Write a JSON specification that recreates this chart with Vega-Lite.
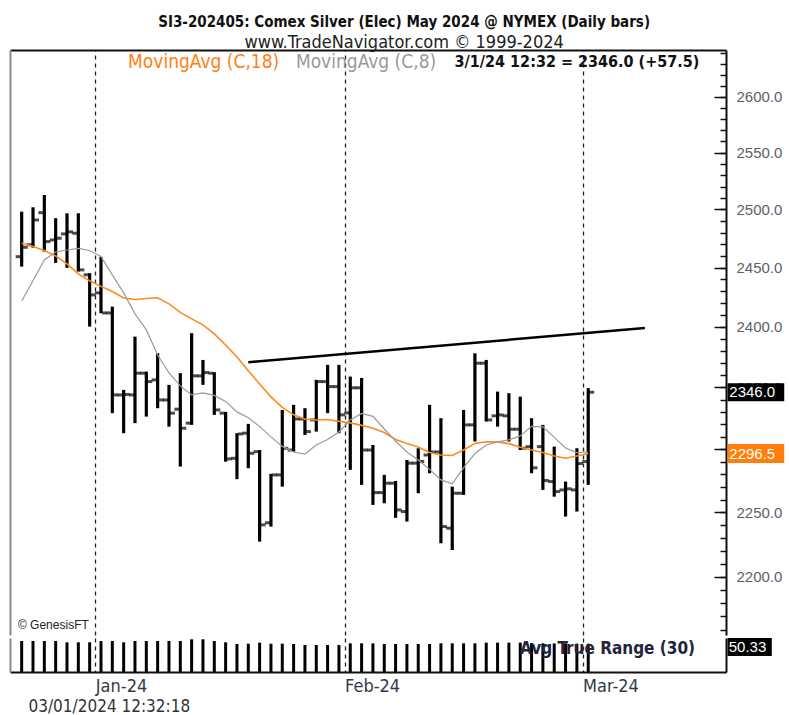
{
  "$schema": "https://vega.github.io/schema/vega-lite/v6.json",
  "background": "white",
  "padding": {"left": 10, "top": 15, "right": 0, "bottom": 0},
  "config": {"view": {"stroke": null}, "font": "Liberation Sans Narrow, DejaVu Sans Condensed, sans-serif"},
  "title": {
    "text": "SI3-202405:  Comex Silver (Elec) May 2024 @ NYMEX  (Daily bars)",
    "subtitle": "www.TradeNavigator.com © 1999-2024",
    "anchor": "middle",
    "font": "Liberation Sans Narrow, DejaVu Sans Condensed, sans-serif",
    "fontSize": 15, "fontWeight": "bold", "color": "#111",
    "subtitleFont": "Liberation Sans Narrow, DejaVu Sans Condensed, sans-serif",
    "subtitleFontSize": 18, "subtitleColor": "#222", "subtitlePadding": 4,
    "offset": -2, "dx": 7
  },
  "datasets": {
    "bars": [
      {"i": 0, "o": 2459.3, "h": 2498.1, "l": 2450.8, "c": 2467.3, "m18": 2470.8, "m8": 2421.7, "atr": 55.2},
      {"i": 1, "o": 2469.5, "h": 2501.9, "l": 2467.0, "c": 2490.9, "m18": 2467.9, "m8": 2438.7, "atr": 55.2},
      {"i": 2, "o": 2497.2, "h": 2512.6, "l": 2463.6, "c": 2472.2, "m18": 2464.6, "m8": 2456.5, "atr": 55.2},
      {"i": 3, "o": 2473.6, "h": 2492.4, "l": 2454.0, "c": 2475.1, "m18": 2459.9, "m8": 2463.3, "atr": 55.2},
      {"i": 4, "o": 2478.8, "h": 2496.7, "l": 2449.7, "c": 2480.6, "m18": 2453.1, "m8": 2465.0, "atr": 52.8},
      {"i": 5, "o": 2479.4, "h": 2496.7, "l": 2446.6, "c": 2448.0, "m18": 2444.6, "m8": 2466.3, "atr": 52.8},
      {"i": 6, "o": 2443.8, "h": 2445.2, "l": 2400.2, "c": 2426.8, "m18": 2438.7, "m8": 2464.6, "atr": 52.8},
      {"i": 7, "o": 2428.5, "h": 2459.1, "l": 2411.4, "c": 2411.6, "m18": 2434.0, "m8": 2459.5, "atr": 55.2},
      {"i": 8, "o": 2411.6, "h": 2416.9, "l": 2329.0, "c": 2343.8, "m18": 2429.7, "m8": 2443.8, "atr": 55.2},
      {"i": 9, "o": 2343.8, "h": 2347.9, "l": 2312.8, "c": 2344.2, "m18": 2424.2, "m8": 2428.5, "atr": 52.8},
      {"i": 10, "o": 2343.8, "h": 2391.8, "l": 2320.9, "c": 2361.6, "m18": 2422.9, "m8": 2410.8, "atr": 55.2},
      {"i": 11, "o": 2361.6, "h": 2362.9, "l": 2326.2, "c": 2354.7, "m18": 2423.8, "m8": 2397.4, "atr": 55.2},
      {"i": 12, "o": 2356.1, "h": 2378.0, "l": 2333.0, "c": 2339.7, "m18": 2424.4, "m8": 2376.6, "atr": 55.2},
      {"i": 13, "o": 2339.7, "h": 2352.0, "l": 2318.1, "c": 2329.0, "m18": 2419.2, "m8": 2361.8, "atr": 55.2},
      {"i": 14, "o": 2332.2, "h": 2361.6, "l": 2286.1, "c": 2316.8, "m18": 2412.1, "m8": 2351.2, "atr": 55.2},
      {"i": 15, "o": 2320.9, "h": 2394.7, "l": 2319.5, "c": 2359.4, "m18": 2406.6, "m8": 2343.8, "atr": 58.2},
      {"i": 16, "o": 2359.4, "h": 2372.5, "l": 2352.0, "c": 2362.1, "m18": 2401.6, "m8": 2345.4, "atr": 58.2},
      {"i": 17, "o": 2361.6, "h": 2362.4, "l": 2327.6, "c": 2331.6, "m18": 2394.1, "m8": 2343.4, "atr": 55.2},
      {"i": 18, "o": 2329.0, "h": 2330.0, "l": 2290.0, "c": 2292.2, "m18": 2384.9, "m8": 2338.5, "atr": 52.8},
      {"i": 19, "o": 2292.7, "h": 2312.8, "l": 2276.1, "c": 2312.2, "m18": 2375.0, "m8": 2330.0, "atr": 49.8},
      {"i": 20, "o": 2312.8, "h": 2320.3, "l": 2284.8, "c": 2296.7, "m18": 2363.5, "m8": 2325.2, "atr": 50.4},
      {"i": 21, "o": 2298.0, "h": 2299.3, "l": 2227.2, "c": 2240.2, "m18": 2352.8, "m8": 2318.3, "atr": 52.2},
      {"i": 22, "o": 2241.8, "h": 2280.3, "l": 2238.9, "c": 2279.5, "m18": 2342.2, "m8": 2309.8, "atr": 50.4},
      {"i": 23, "o": 2279.5, "h": 2331.6, "l": 2270.2, "c": 2300.7, "m18": 2333.6, "m8": 2302.2, "atr": 50.4},
      {"i": 24, "o": 2299.3, "h": 2335.7, "l": 2298.0, "c": 2324.3, "m18": 2327.6, "m8": 2297.7, "atr": 49.8},
      {"i": 25, "o": 2324.3, "h": 2333.0, "l": 2311.4, "c": 2314.1, "m18": 2324.3, "m8": 2296.1, "atr": 48.0},
      {"i": 26, "o": 2323.5, "h": 2356.1, "l": 2314.1, "c": 2354.7, "m18": 2323.5, "m8": 2303.3, "atr": 48.0},
      {"i": 27, "o": 2354.7, "h": 2368.4, "l": 2329.0, "c": 2350.6, "m18": 2323.9, "m8": 2307.8, "atr": 48.0},
      {"i": 28, "o": 2350.6, "h": 2368.4, "l": 2312.8, "c": 2327.6, "m18": 2322.3, "m8": 2313.8, "atr": 48.0},
      {"i": 29, "o": 2329.2, "h": 2358.8, "l": 2283.5, "c": 2349.6, "m18": 2321.1, "m8": 2323.5, "atr": 51.0},
      {"i": 30, "o": 2349.6, "h": 2357.7, "l": 2271.6, "c": 2299.3, "m18": 2319.1, "m8": 2328.8, "atr": 51.0},
      {"i": 31, "o": 2299.3, "h": 2303.3, "l": 2255.8, "c": 2265.5, "m18": 2316.7, "m8": 2326.4, "atr": 51.0},
      {"i": 32, "o": 2265.5, "h": 2279.5, "l": 2257.1, "c": 2272.9, "m18": 2313.4, "m8": 2316.2, "atr": 49.8},
      {"i": 33, "o": 2272.9, "h": 2274.7, "l": 2245.7, "c": 2251.9, "m18": 2307.8, "m8": 2306.5, "atr": 49.8},
      {"i": 34, "o": 2250.6, "h": 2291.4, "l": 2242.8, "c": 2288.8, "m18": 2304.6, "m8": 2297.7, "atr": 49.8},
      {"i": 35, "o": 2288.8, "h": 2300.7, "l": 2265.0, "c": 2290.1, "m18": 2301.7, "m8": 2291.4, "atr": 49.8},
      {"i": 36, "o": 2295.3, "h": 2335.7, "l": 2280.8, "c": 2297.7, "m18": 2297.3, "m8": 2283.9, "atr": 49.8},
      {"i": 37, "o": 2297.7, "h": 2324.9, "l": 2225.9, "c": 2238.9, "m18": 2295.3, "m8": 2275.5, "atr": 51.0},
      {"i": 38, "o": 2237.6, "h": 2270.2, "l": 2220.7, "c": 2265.0, "m18": 2294.9, "m8": 2272.4, "atr": 51.0},
      {"i": 39, "o": 2265.0, "h": 2331.6, "l": 2263.7, "c": 2319.5, "m18": 2299.3, "m8": 2285.1, "atr": 51.0},
      {"i": 40, "o": 2319.5, "h": 2378.0, "l": 2306.1, "c": 2369.8, "m18": 2304.6, "m8": 2296.5, "atr": 51.0},
      {"i": 41, "o": 2369.8, "h": 2372.5, "l": 2322.2, "c": 2323.5, "m18": 2305.8, "m8": 2303.3, "atr": 52.2},
      {"i": 42, "o": 2326.8, "h": 2346.5, "l": 2318.1, "c": 2327.5, "m18": 2305.8, "m8": 2305.8, "atr": 52.2},
      {"i": 43, "o": 2326.8, "h": 2345.2, "l": 2306.1, "c": 2316.0, "m18": 2304.4, "m8": 2307.4, "atr": 52.2},
      {"i": 44, "o": 2316.0, "h": 2342.4, "l": 2299.3, "c": 2300.7, "m18": 2301.5, "m8": 2310.6, "atr": 52.2},
      {"i": 45, "o": 2302.0, "h": 2324.9, "l": 2280.8, "c": 2285.1, "m18": 2299.3, "m8": 2318.3, "atr": 51.5},
      {"i": 46, "o": 2302.0, "h": 2319.5, "l": 2267.6, "c": 2275.0, "m18": 2297.3, "m8": 2317.9, "atr": 51.0},
      {"i": 47, "o": 2274.2, "h": 2302.0, "l": 2262.3, "c": 2266.3, "m18": 2294.5, "m8": 2309.4, "atr": 50.8},
      {"i": 48, "o": 2267.6, "h": 2274.2, "l": 2246.7, "c": 2268.5, "m18": 2292.7, "m8": 2300.9, "atr": 50.6},
      {"i": 49, "o": 2267.6, "h": 2300.7, "l": 2250.6, "c": 2288.5, "m18": 2294.5, "m8": 2297.2, "atr": 50.5},
      {"i": 50, "o": 2290.1, "h": 2349.3, "l": 2271.6, "c": 2346.0, "m18": 2296.5, "m8": 2297.7, "atr": 50.33}
    ],
    "trend": [
      {"i": 20, "p": 2370.6},
      {"i": 55, "p": 2399.0}
    ]
  },
  "spacing": 2,
  "vconcat": [
    {
      "width": 716,
      "height": 585,
      "data": {"name": "bars"},
      "layer": [
        {
          "mark": {"type": "rule", "strokeWidth": 3.2, "color": "#000"},
          "encoding": {
            "x": {"field": "i", "type": "quantitative",
              "scale": {"domain": [-1.03, 62.16], "nice": false, "zero": false},
              "axis": {"orient": "top", "values": [6.5, 28.5, 49.5], "labels": false, "ticks": false,
                "domainColor": "#111", "domainWidth": 2, "grid": true, "gridDash": [4, 4],
                "gridColor": "#222", "gridWidth": 1.3, "title": null}},
            "y": {"field": "l", "type": "quantitative",
              "scale": {"type": "log", "domain": [2156.0, 2642.6], "nice": false, "zero": false},
              "axis": {"orient": "right", "values": [2200, 2250, 2300, 2350, 2400, 2450, 2500, 2550, 2600],
                "format": ".1f", "ticks": false, "labelPadding": 10, "labelFontSize": 15,
                "labelFont": "Liberation Sans, Arial, sans-serif", "labelColor": "#5b5f6b",
                "domainColor": "#111", "domainWidth": 2, "grid": false, "title": null}},
            "y2": {"field": "h"}
          }
        },
        {
          "mark": {"type": "tick", "orient": "horizontal", "size": 5, "thickness": 3, "xOffset": -3.5, "color": "#000"},
          "encoding": {
            "x": {"field": "i", "type": "quantitative", "axis": null},
            "y": {"field": "o", "type": "quantitative",
              "axis": {"orient": "right", "values": [2200, 2250, 2300, 2350, 2400, 2450, 2500, 2550, 2600],
                "labels": false, "domain": false, "tickSize": -12, "tickColor": "#111", "tickWidth": 1.5,
                "grid": false, "title": null}}
          }
        },
        {
          "mark": {"type": "tick", "orient": "horizontal", "size": 5, "thickness": 3, "xOffset": 3.5, "color": "#000"},
          "encoding": {
            "x": {"field": "i", "type": "quantitative", "axis": null},
            "y": {"field": "c", "type": "quantitative",
              "axis": {"orient": "right",
                "values": [2160,2170,2180,2190,2200,2210,2220,2230,2240,2250,2260,2270,2280,2290,2300,2310,2320,2330,2340,2350,2360,2370,2380,2390,2400,2410,2420,2430,2440,2450,2460,2470,2480,2490,2500,2510,2520,2530,2540,2550,2560,2570,2580,2590,2600,2610,2620,2630,2640],
                "labels": false, "domain": false, "tickSize": -6, "tickColor": "#111", "tickWidth": 1.5,
                "grid": false, "title": null}}
          }
        },
        {
          "mark": {"type": "line", "color": "#ff8a1c", "strokeWidth": 1.6},
          "encoding": {
            "x": {"field": "i", "type": "quantitative", "axis": null},
            "y": {"field": "m18", "type": "quantitative",
              "axis": {"orient": "left", "labels": false, "ticks": false, "domainColor": "#8a8a8a",
                "domainWidth": 2, "grid": false, "title": null}}
          }
        },
        {
          "mark": {"type": "line", "color": "#9b9b9b", "strokeWidth": 1.2},
          "encoding": {
            "x": {"field": "i", "type": "quantitative", "axis": null},
            "y": {"field": "m8", "type": "quantitative", "axis": null}
          }
        },
        {
          "data": {"name": "trend"},
          "mark": {"type": "line", "color": "#000", "strokeWidth": 2.5},
          "encoding": {
            "x": {"field": "i", "type": "quantitative", "axis": null},
            "y": {"field": "p", "type": "quantitative", "axis": null}
          }
        },
        {
          "data": {"values": [{"t": "MovingAvg (C,18)"}]},
          "mark": {"type": "text", "align": "left", "baseline": "middle", "fontSize": 19, "color": "#ff7f14"},
          "encoding": {
            "x": {"datum": 9.39, "type": "quantitative", "axis": null},
            "y": {"datum": 2631.6, "type": "quantitative", "axis": null},
            "text": {"field": "t"}
          }
        },
        {
          "data": {"values": [{"t": "MovingAvg (C,8)"}]},
          "mark": {"type": "text", "align": "left", "baseline": "middle", "fontSize": 19, "color": "#999999"},
          "encoding": {
            "x": {"datum": 24.2, "type": "quantitative", "axis": null},
            "y": {"datum": 2631.6, "type": "quantitative", "axis": null},
            "text": {"field": "t"}
          }
        },
        {
          "data": {"values": [{"t": "3/1/24 12:32 = 2346.0 (+57.5)"}]},
          "mark": {"type": "text", "align": "left", "baseline": "middle", "fontSize": 16, "fontWeight": "bold", "color": "#111"},
          "encoding": {
            "x": {"datum": 38.2, "type": "quantitative", "axis": null},
            "y": {"datum": 2631.6, "type": "quantitative", "axis": null},
            "text": {"field": "t"}
          }
        },
        {
          "data": {"values": [{"t": "© GenesisFT"}]},
          "mark": {"type": "text", "align": "left", "baseline": "middle", "fontSize": 12, "font": "Liberation Sans, Arial, sans-serif", "color": "#222"},
          "encoding": {
            "x": {"datum": -0.33, "type": "quantitative", "axis": null},
            "y": {"datum": 2163.6, "type": "quantitative", "axis": null},
            "text": {"field": "t"}
          }
        },
        {
          "data": {"values": [{"v": 2346.0}]},
          "mark": {"type": "rect", "color": "#000"},
          "encoding": {
            "x": {"datum": 62.3, "type": "quantitative", "axis": null},
            "x2": {"datum": 67.3},
            "y": {"datum": 2353.3, "type": "quantitative", "axis": null},
            "y2": {"datum": 2338.7}
          }
        },
        {
          "data": {"values": [{"v": 2296.5}]},
          "mark": {"type": "rect", "color": "#ff7f0a"},
          "encoding": {
            "x": {"datum": 62.3, "type": "quantitative", "axis": null},
            "x2": {"datum": 67.3},
            "y": {"datum": 2304.1, "type": "quantitative", "axis": null},
            "y2": {"datum": 2288.9}
          }
        },
        {
          "data": {"values": [{"v": 2346.0}, {"v": 2296.5}]},
          "mark": {"type": "text", "align": "left", "baseline": "middle", "fontSize": 15, "font": "Liberation Sans, Arial, sans-serif", "color": "#fff"},
          "encoding": {
            "x": {"datum": 62.45, "type": "quantitative", "axis": null},
            "y": {"field": "v", "type": "quantitative", "axis": null},
            "text": {"field": "v", "format": ".1f"}
          }
        }
      ],
      "resolve": {"axis": {"x": "independent", "y": "independent"}}
    },
    {
      "width": 716,
      "height": 34,
      "data": {"name": "bars"},
      "layer": [
        {
          "mark": {"type": "rule", "strokeWidth": 3, "color": "#000"},
          "encoding": {
            "x": {"field": "i", "type": "quantitative",
              "scale": {"domain": [-1.03, 62.16], "nice": false, "zero": false},
              "axis": {"orient": "bottom", "values": [6.5, 28.5, 49.5],
                "labelExpr": "datum.value < 10 ? 'Jan-24' : datum.value < 30 ? 'Feb-24' : 'Mar-24'",
                "labelAlign": "left", "labelBaseline": "top", "labelPadding": 5, "labelFontSize": 18,
                "labelColor": "#333a45", "labelFlush": false, "ticks": false,
                "domainColor": "#111", "domainWidth": 2, "grid": true, "gridDash": [4, 4],
                "gridColor": "#222", "gridWidth": 1.3,
                "title": "03/01/2024 12:32:18", "titleAnchor": "start", "titleAlign": "left",
                "titleX": 18, "titleY": 34, "titleBaseline": "middle", "titleFontSize": 17,
                "titleFontWeight": "normal", "titleColor": "#333"}},
            "y": {"field": "atr", "type": "quantitative",
              "scale": {"domain": [0, 60.5], "nice": false},
              "axis": {"orient": "left", "labels": false, "ticks": false, "domainColor": "#8a8a8a",
                "domainWidth": 2, "grid": false, "title": null}},
            "y2": {"datum": 0}
          }
        },
        {
          "data": {"values": [{"t": "Avg True Range (30)"}]},
          "mark": {"type": "text", "align": "right", "baseline": "middle", "fontSize": 17, "fontWeight": "bold", "color": "#22243a"},
          "encoding": {
            "x": {"datum": 59.43, "type": "quantitative", "axis": null},
            "y": {"datum": 40.9, "type": "quantitative",
              "axis": {"orient": "right", "labels": false, "ticks": false, "domainColor": "#111",
                "domainWidth": 2, "grid": false, "title": null}},
            "text": {"field": "t"}
          }
        },
        {
          "data": {"values": [{"v": 50.33}]},
          "mark": {"type": "rect", "color": "#000"},
          "encoding": {
            "x": {"datum": 62.3, "type": "quantitative", "axis": null},
            "x2": {"datum": 66.2},
            "y": {"datum": 60.5, "type": "quantitative", "axis": null},
            "y2": {"datum": 28.5}
          }
        },
        {
          "data": {"values": [{"v": 50.33}]},
          "mark": {"type": "text", "align": "left", "baseline": "middle", "fontSize": 15, "font": "Liberation Sans, Arial, sans-serif", "color": "#fff"},
          "encoding": {
            "x": {"datum": 62.4, "type": "quantitative", "axis": null},
            "y": {"datum": 44.5, "type": "quantitative", "axis": null},
            "text": {"field": "v", "format": ".2f"}
          }
        }
      ],
      "resolve": {"axis": {"x": "independent", "y": "independent"}}
    }
  ]
}
